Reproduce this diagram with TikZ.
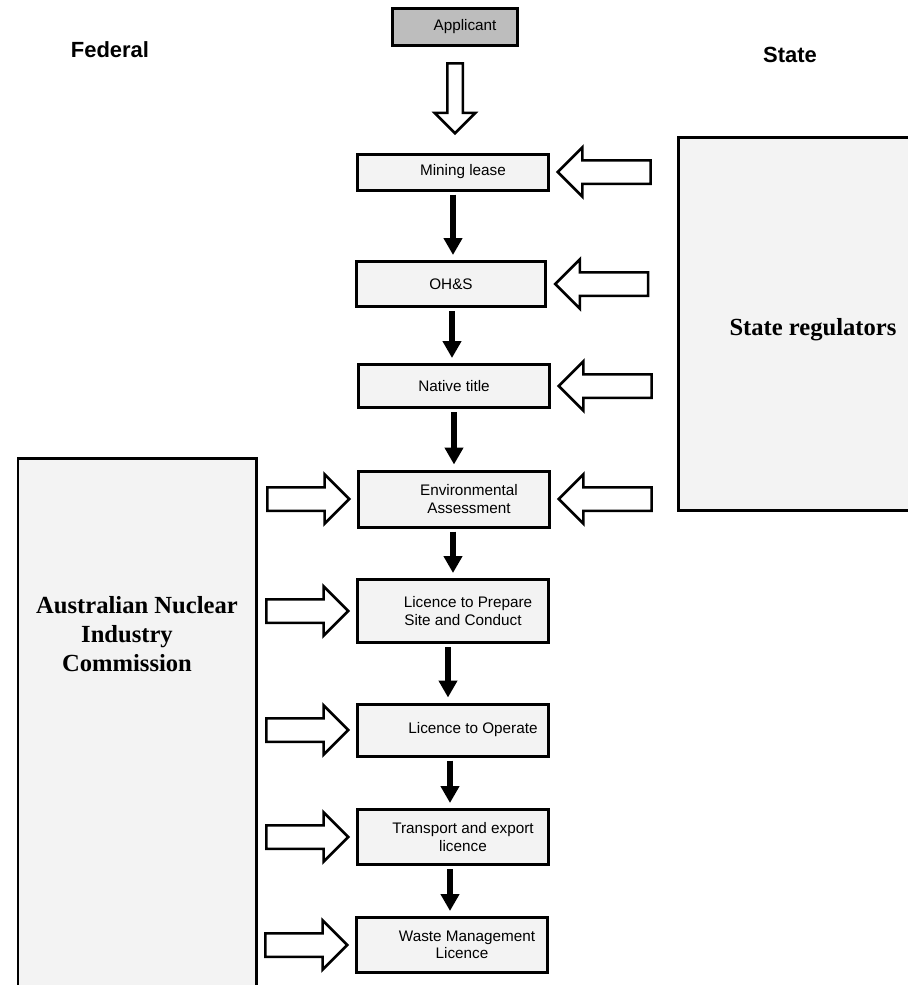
\documentclass[tikz,border=0pt]{standalone}
\usepackage{fontspec}
\setmainfont{Liberation Serif}
\setsansfont{Liberation Sans}
\usepackage{tikz}
\usetikzlibrary{arrows.meta,shapes.arrows,calc}
\definecolor{boxgray}{HTML}{F3F3F3}
\definecolor{appgray}{HTML}{BDBDBD}
\tikzset{
 stepbox/.style={draw, line width=0.6mm, fill=boxgray, minimum width=3.82cm, align=center,
   font=\sffamily\fontsize{8.7}{10}\selectfont, inner sep=1pt},
 flow/.style={line width=1.2mm, -{Triangle[width=3.6mm,length=3.4mm]}, shorten <=0.6mm, shorten >=1mm},
 hollow/.style={draw, line width=0.5mm, fill=white, single arrow, single arrow head extend=2.6mm,
   single arrow head indent=0pt, inner xsep=0pt, inner ysep=2.1mm, anchor=tip},
 regbox/.style={draw, line width=0.6mm, fill=boxgray},
 reglabel/.style={font=\bfseries\fontsize{14}{16.5}\selectfont, align=center},
 sidelabel/.style={font=\sffamily\bfseries\fontsize{12.5}{14}\selectfont}
}
\begin{document}
\begin{tikzpicture}[x=0.02cm,y=-0.02cm]
\useasboundingbox[fill=white] (0,0) rectangle (908,985);
\clip (0,0) rectangle (908,985);
%\draw[help lines,step=50](0,0)grid(908,985);
\node[sidelabel] (fed) at (110,50) {Federal};
\node[sidelabel] (st) at (790,55) {State};
\node[stepbox, fill=appgray, minimum width=2.5cm, minimum height=0.74cm] (app) at (455,27) {\hspace*{4mm}Applicant};
% steps
\node[stepbox, minimum height=0.72cm] (mine) at (453,172) {\hspace*{4mm}Mining lease};
\node[stepbox, minimum height=0.9cm, minimum width=3.8cm] (ohs) at (451,284) {OH\&S};
\node[stepbox, minimum height=0.86cm] (title) at (454,386) {Native title};
\node[stepbox, minimum height=1.12cm] (env) at (454,499) {\hspace*{6mm}Environmental\\\hspace*{6mm}Assessment};
\node[stepbox, minimum height=1.26cm] (prep) at (453,611) {\hspace*{6mm}Licence to Prepare\\\hspace*{4mm}Site and Conduct};
\node[stepbox, minimum height=1.04cm] (oper) at (453,730) {\hspace*{8mm}Licence to Operate};
\node[stepbox, minimum height=1.1cm] (trans) at (453,837) {\hspace*{4mm}Transport and export\\\hspace*{4mm}licence};
\node[stepbox, minimum height=1.1cm] (waste) at (452,945) {\hspace*{6mm}Waste Management\\\hspace*{4mm}Licence};
% regulators
\draw[regbox] (678,137) rectangle (930,510);
\node[reglabel] (streg) at (813,330) {State regulators};
\draw[regbox] (18,458) rectangle (256,1000);
\node[reglabel] (anic) at (127,634) {\hspace*{4mm}Australian Nuclear\\Industry\\Commission};
% flow
\draw[flow] (mine.south-|453,0) -- (ohs.north-|453,0);
\draw[flow] (ohs.south-|452,0) -- (title.north-|452,0);
\draw[flow] (title.south-|454,0) -- (env.north-|454,0);
\draw[flow] (env.south-|453,0) -- (prep.north-|453,0);
\draw[flow] (prep.south-|448,0) -- (oper.north-|448,0);
\draw[flow] (oper.south-|450,0) -- (trans.north-|450,0);
\draw[flow] (trans.south-|450,0) -- (waste.north-|450,0);
% hollow arrows
\node[hollow, shape border rotate=270, minimum height=1.4cm, inner xsep=1.3mm, inner ysep=0pt,
  single arrow head extend=2.5mm] (a0) at (455,135) {};
\foreach \s in {mine,ohs,title,env}
  \node[hollow, shape border rotate=180, minimum height=1.86cm] at ([xshift=1.2mm]\s.east) {};
\foreach \s in {env,prep,oper,trans,waste}
  \node[hollow, minimum height=1.64cm] at ([xshift=-1.2mm]\s.west) {};
\end{tikzpicture}
\end{document}
